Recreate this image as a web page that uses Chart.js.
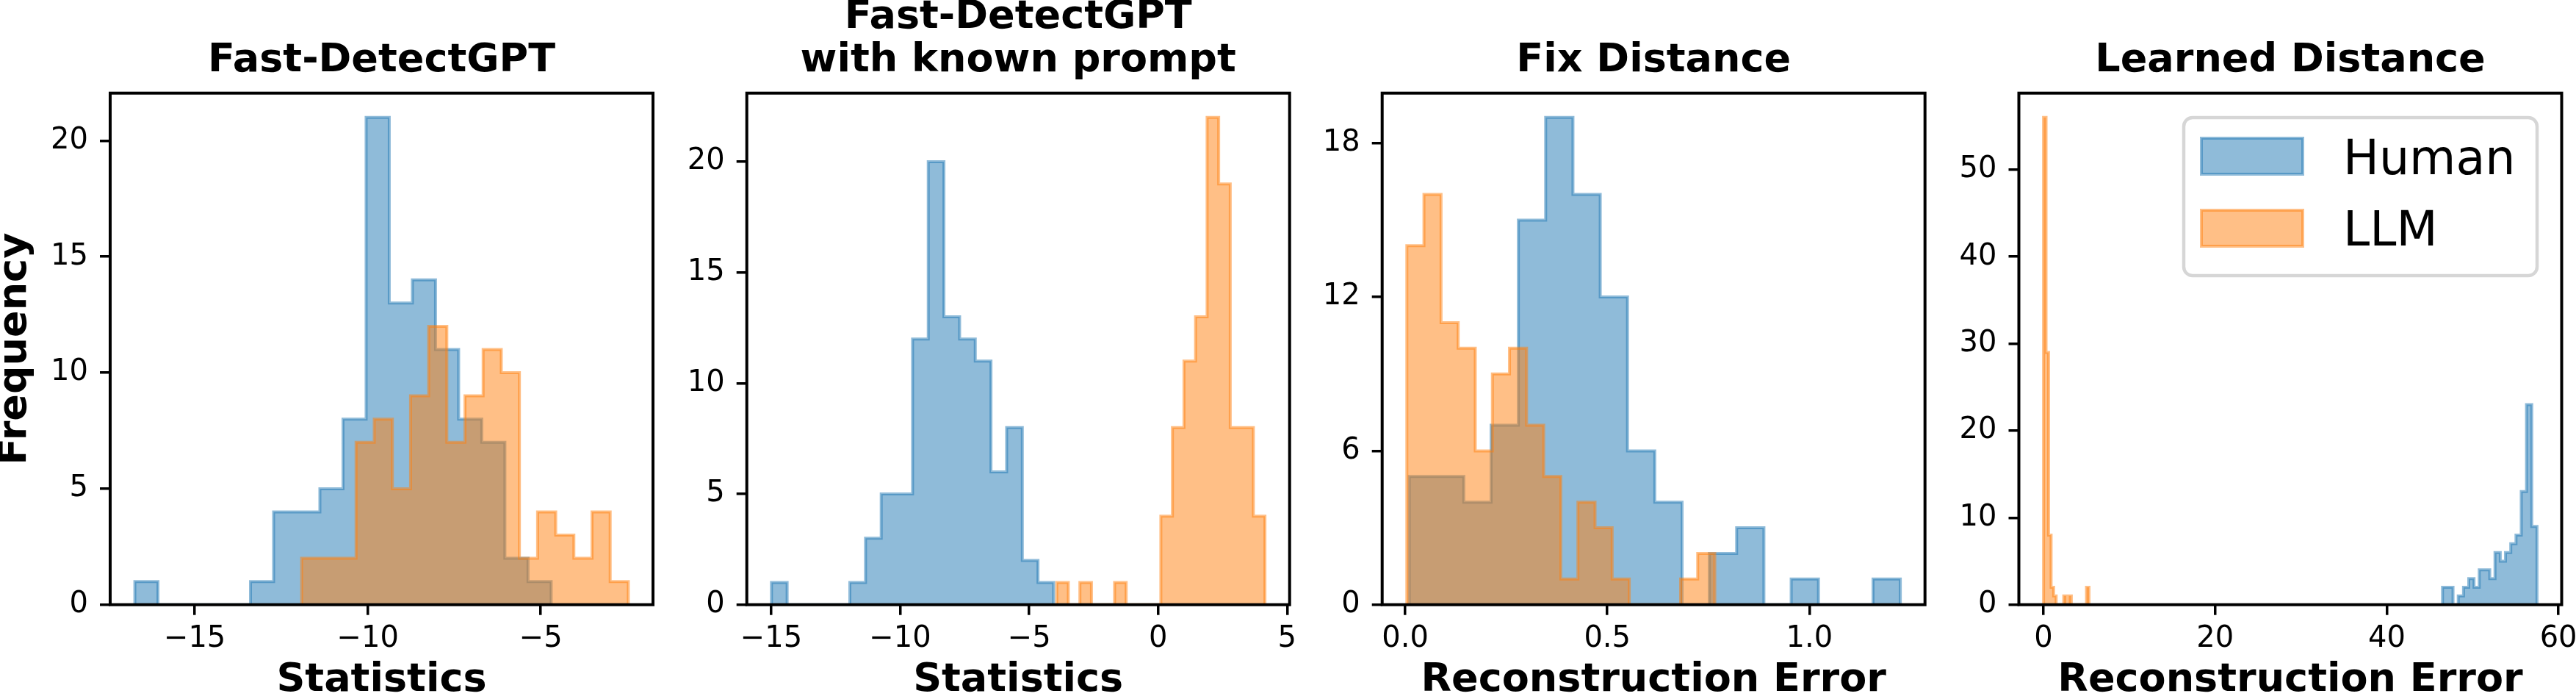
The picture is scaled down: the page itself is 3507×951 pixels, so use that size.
<!DOCTYPE html>
<html lang="en">
<head>
  <meta charset="UTF-8">
  <title>Human vs LLM score histograms</title>
  <script src="https://cdn.jsdelivr.net/npm/chart.js"></script>
  <style>
    html, body { margin: 0; padding: 0; background: #fff; overflow: hidden; }
    #wrap { position: relative; width: 3507px; height: 951px; }
    .panel { position: absolute; top: 0; height: 951px; }
    .panel canvas { display: block; }
  </style>
</head>
<body>
  <div id="wrap"></div>

  <script>
    // ---- data (18 equal-width bins per series, [first edge, last edge] + counts) ----
    // Fast-DetectGPT
    const fastHumanRange = [-16.73, -4.70];
    const fastHumanCounts = [1, 0, 0, 0, 0, 1, 4, 4, 5, 8, 21, 13, 14, 11, 8, 7, 2, 1];
    const fastLlmRange = [-11.91, -2.47];
    const fastLlmCounts = [2, 2, 2, 7, 8, 5, 9, 12, 7, 9, 11, 10, 2, 4, 3, 2, 4, 1];

    // Fast-DetectGPT with known prompt
    const promptHumanRange = [-14.99, -4.05];
    const promptHumanCounts = [1, 0, 0, 0, 0, 1, 3, 5, 5, 12, 20, 13, 12, 11, 6, 8, 2, 1];
    const promptLlmRange = [-3.93, 4.14];
    const promptLlmCounts = [1, 0, 1, 0, 0, 1, 0, 0, 0, 4, 8, 11, 13, 22, 19, 8, 8, 4];

    // Fix Distance
    const fixHumanRange = [0.010, 1.225];
    const fixHumanCounts = [5, 5, 4, 7, 15, 19, 16, 12, 6, 4, 0, 2, 3, 0, 1, 0, 0, 1];
    const fixLlmRange = [0.004, 0.766];
    const fixLlmCounts = [14, 16, 11, 10, 6, 9, 10, 7, 5, 1, 4, 3, 1, 0, 0, 0, 1, 2];

    // Learned Distance
    const learnedHumanRange = [46.49, 57.50];
    const learnedHumanCounts = [2, 2, 0, 1, 2, 3, 2, 4, 4, 3, 6, 5, 6, 7, 8, 13, 23, 9];
    const learnedLlmRange = [0.0, 5.30];
    const learnedLlmCounts = [56, 29, 8, 2, 1, 0, 0, 0, 1, 0, 1, 0, 0, 0, 0, 0, 0, 2];

    // tick labels
    const fastXTicks = [-15, -10, -5];
    const fastYTicks = [0, 5, 10, 15, 20];
    const promptXTicks = [-15, -10, -5, 0, 5];
    const promptYTicks = [0, 5, 10, 15, 20];
    const fixXTicks = [0, 0.5, 1.0];
    const fixYTicks = [0, 6, 12, 18];
    const learnedXTicks = [0, 20, 40, 60];
    const learnedYTicks = [0, 10, 20, 30, 40, 50];

    const seriesNames = ['Human', 'LLM'];

    // ---- styling / layout ----
    const FONT = 'DejaVu Sans';
    const H = 951;
    const PLOT_TOP = 126.7;
    const PLOT_BOTTOM = 822.7;
    const PLOT_W = 739;
    const BOLD_SIZE = 54;
    const humanColor = 'rgba(31, 119, 180, 0.5)';
    const llmColor = 'rgba(255, 127, 14, 0.5)';

    Chart.defaults.font.family = FONT;

    const panels = [
      { left: 0, width: 940, plotLeft: 150, title: ['Fast-DetectGPT'], xTitle: 'Statistics', yTitle: 'Frequency',
        xTicks: fastXTicks, yTicks: fastYTicks, dec: 0,
        human: [fastHumanRange, fastHumanCounts], llm: [fastLlmRange, fastLlmCounts] },
      { left: 915, width: 885, plotLeft: 1016.7, title: ['Fast-DetectGPT', 'with known prompt'], xTitle: 'Statistics',
        xTicks: promptXTicks, yTicks: promptYTicks, dec: 0,
        human: [promptHumanRange, promptHumanCounts], llm: [promptLlmRange, promptLlmCounts] },
      { left: 1775, width: 885, plotLeft: 1881.7, title: ['Fix Distance'], xTitle: 'Reconstruction Error',
        xTicks: fixXTicks, yTicks: fixYTicks, dec: 1,
        human: [fixHumanRange, fixHumanCounts], llm: [fixLlmRange, fixLlmCounts] },
      { left: 2645, width: 862, plotLeft: 2748.5, title: ['Learned Distance'], xTitle: 'Reconstruction Error',
        xTicks: learnedXTicks, yTicks: learnedYTicks, dec: 0, legend: true,
        human: [learnedHumanRange, learnedHumanCounts], llm: [learnedLlmRange, learnedLlmCounts] }
    ];

    // step outline of a histogram: left edge up, flat tops, right edge down
    function stepPoints(range, counts) {
      const w = (range[1] - range[0]) / counts.length;
      const pts = [{ x: range[0], y: 0 }];
      counts.forEach((c, i) => pts.push({ x: range[0] + i * w, y: c }));
      pts.push({ x: range[1], y: 0 });
      return pts;
    }

    function fmt(v, dec) {
      return (v < 0 ? '\u2212' : '') + Math.abs(v).toFixed(dec);
    }

    // black box around the plot area
    const framePlugin = {
      id: 'frame',
      afterDraw(chart) {
        const { ctx, chartArea: a } = chart;
        ctx.save();
        ctx.strokeStyle = '#000';
        ctx.lineWidth = 4;
        ctx.strokeRect(a.left, a.top, a.right - a.left, a.bottom - a.top);
        ctx.restore();
      }
    };

    // legend in the upper right corner of the plot area
    const cornerLegend = {
      id: 'cornerLegend',
      afterDraw(chart) {
        const { ctx, chartArea: a } = chart;
        const boxW = 481, boxH = 215;
        const x0 = a.right - 33.5 - boxW;
        const y0 = a.top + 33.3;
        ctx.save();
        ctx.beginPath();
        ctx.roundRect(x0, y0, boxW, boxH, 12);
        ctx.fillStyle = 'rgba(255, 255, 255, 0.8)';
        ctx.fill();
        ctx.lineWidth = 4.5;
        ctx.strokeStyle = '#d6d6d6';
        ctx.stroke();
        chart.data.datasets.forEach((ds, i) => {
          const hy = y0 + 28 + i * 98;
          ctx.fillStyle = ds.backgroundColor;
          ctx.fillRect(x0 + 24, hy, 138, 49);
          ctx.lineWidth = 4;
          ctx.strokeStyle = ds.borderColor;
          ctx.strokeRect(x0 + 24, hy, 138, 49);
          ctx.fillStyle = '#000';
          ctx.font = '65px "' + FONT + '"';
          ctx.textBaseline = 'alphabetic';
          ctx.textAlign = 'left';
          ctx.fillText(ds.label, x0 + 217, y0 + 77 + i * 97);
        });
        ctx.restore();
      }
    };

    const tickFont = { family: FONT, size: 40 };
    const tickGrid = { display: true, drawOnChartArea: false, drawTicks: true, tickLength: 14,
                       tickWidth: 3.5, lineWidth: 3.5, tickColor: '#000', color: '#000' };

    panels.forEach((p) => {
      const holder = document.createElement('div');
      holder.className = 'panel';
      holder.style.left = p.left + 'px';
      holder.style.width = p.width + 'px';
      const canvas = document.createElement('canvas');
      canvas.width = p.width;
      canvas.height = H;
      canvas.style.width = p.width + 'px';
      canvas.style.height = H + 'px';
      holder.appendChild(canvas);
      document.getElementById('wrap').appendChild(holder);

      const lo = Math.min(p.human[0][0], p.llm[0][0]);
      const hi = Math.max(p.human[0][1], p.llm[0][1]);
      const margin = 0.05 * (hi - lo);
      const yMax = 1.05 * Math.max(...p.human[1], ...p.llm[1]);

      const yWidth = p.plotLeft - p.left;
      const rightPad = p.left + p.width - (p.plotLeft + PLOT_W);
      const titleLines = p.title.length;

      new Chart(canvas.getContext('2d'), {
        type: 'line',
        data: {
          datasets: [
            { label: seriesNames[0], data: stepPoints(p.human[0], p.human[1]), order: 1,
              stepped: 'before', fill: 'origin', borderWidth: 4, pointRadius: 0,
              borderColor: humanColor, backgroundColor: humanColor },
            { label: seriesNames[1], data: stepPoints(p.llm[0], p.llm[1]), order: 0,
              stepped: 'before', fill: 'origin', borderWidth: 4, pointRadius: 0,
              borderColor: llmColor, backgroundColor: llmColor }
          ]
        },
        options: {
          responsive: false,
          animation: false,
          devicePixelRatio: 1,
          events: [],
          layout: { padding: { left: 0, right: rightPad, top: 0, bottom: 0 } },
          plugins: {
            legend: { display: false },
            tooltip: { enabled: false },
            title: {
              display: true,
              text: p.title,
              fullSize: false,
              color: '#000',
              font: { family: FONT, size: BOLD_SIZE, weight: 'bold', lineHeight: '59px' },
              padding: { top: PLOT_TOP - titleLines * 59 - 14.5, bottom: 14.5 }
            }
          },
          scales: {
            x: {
              type: 'linear',
              position: 'bottom',
              bounds: 'data',
              min: lo - margin,
              max: hi + margin,
              afterBuildTicks: (ax) => { ax.ticks = p.xTicks.map(v => ({ value: v })); },
              afterFit: (ax) => { ax.height = H - PLOT_BOTTOM; ax.paddingLeft = 0; ax.paddingRight = 0; },
              ticks: { font: tickFont, color: '#000', padding: 8.5, autoSkip: false, maxRotation: 0,
                       minRotation: 0, includeBounds: false, callback: (v) => fmt(v, p.dec) },
              grid: tickGrid,
              border: { display: false },
              title: { display: true, text: p.xTitle, color: '#000',
                       font: { family: FONT, size: BOLD_SIZE, weight: 'bold', lineHeight: '51px' },
                       padding: { top: 0, bottom: 0 } }
            },
            y: {
              type: 'linear',
              position: 'left',
              bounds: 'data',
              min: 0,
              max: yMax,
              afterBuildTicks: (ax) => { ax.ticks = p.yTicks.map(v => ({ value: v })); },
              afterFit: (ax) => { ax.width = yWidth; ax.paddingTop = 0; ax.paddingBottom = 0; },
              ticks: { font: tickFont, color: '#000', padding: 16, autoSkip: false,
                       includeBounds: false, callback: (v) => fmt(v, 0) },
              grid: tickGrid,
              border: { display: false },
              title: p.yTitle
                ? { display: true, text: p.yTitle, color: '#000',
                    font: { family: FONT, size: BOLD_SIZE, weight: 'bold', lineHeight: '42.6px' },
                    padding: { top: 0, bottom: 0 } }
                : { display: false }
            }
          }
        },
        plugins: p.legend ? [framePlugin, cornerLegend] : [framePlugin]
      });
    });
  </script>
</body>
</html>
